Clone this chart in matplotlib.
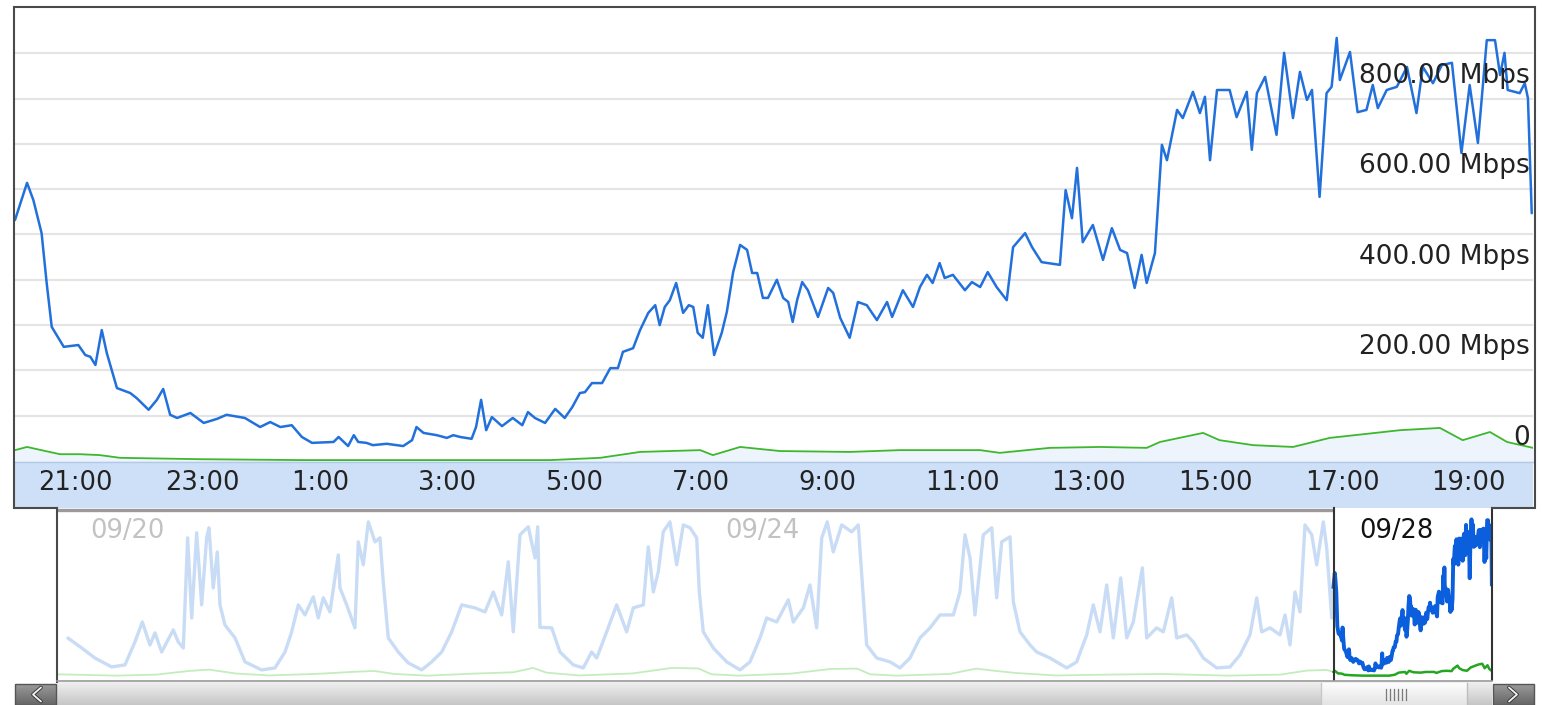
import numpy as np
import matplotlib
matplotlib.use('Agg')
import matplotlib.pyplot as plt
from matplotlib.patches import Rectangle
from matplotlib.colors import LinearSegmentedColormap
import matplotlib.transforms as mtransforms

# ---------------- data ----------------
# main view: hours counted from 09/27 00:00 (24 = 09/28 00:00)
blue_t = [20.05, 20.24, 20.34, 20.47, 20.55, 20.63, 20.82, 21.05, 21.16, 21.24,
          21.32, 21.42, 21.50, 21.66, 21.87, 21.97, 22.16, 22.29, 22.39, 22.50,
          22.61, 22.82, 23.03, 23.24, 23.39, 23.68, 23.92, 24.08, 24.24, 24.42,
          24.58, 24.74, 25.08, 25.16, 25.31, 25.40, 25.47, 25.60, 25.70, 25.92,
          26.18, 26.32, 26.39, 26.50, 26.71, 26.87, 26.97, 27.08, 27.26, 27.33,
          27.41, 27.49, 27.58, 27.74, 27.91, 28.06, 28.15, 28.26, 28.42, 28.58,
          28.73, 28.85, 28.97, 29.05, 29.16, 29.32, 29.45, 29.57, 29.65, 29.81,
          29.92, 30.05, 30.16, 30.23, 30.31, 30.39, 30.49, 30.60, 30.69, 30.76,
          30.83, 30.91, 30.99, 31.09, 31.21, 31.29, 31.39, 31.50, 31.61, 31.69,
          31.77, 31.86, 31.94, 32.08, 32.18, 32.26, 32.33, 32.40, 32.48, 32.57,
          32.73, 32.89, 32.97, 33.08, 33.23, 33.36, 33.50, 33.66, 33.82, 33.90,
          34.07, 34.23, 34.34, 34.45, 34.54, 34.65, 34.73, 34.86, 35.05, 35.16,
          35.29, 35.41, 35.55, 35.71, 35.81, 36.00, 36.11, 36.26, 36.36, 36.55,
          36.64, 36.74, 36.82, 36.86, 36.91, 37.07, 37.23, 37.37, 37.50, 37.61,
          37.73, 37.84, 37.92, 38.05, 38.16, 38.24, 38.40, 38.49, 38.65, 38.76,
          38.84, 38.92, 39.03, 39.23, 39.34, 39.50, 39.58, 39.66, 39.79, 39.97,
          40.09, 40.23, 40.34, 40.45, 40.53, 40.65, 40.76, 40.84, 40.92, 40.97,
          41.13, 41.25, 41.39, 41.49, 41.57, 41.71, 41.87, 42.03, 42.18, 42.28,
          42.44, 42.58, 42.74, 42.89, 43.02, 43.15, 43.29, 43.42, 43.50, 43.57,
          43.62, 43.81, 43.89, 43.94, 44.00]
blue_v = [532, 614, 576, 503, 393, 296, 252, 256, 234, 230,
          212, 289, 238, 161, 150, 139, 113, 135, 159, 102,
          95, 106, 84, 93, 102, 95, 75, 86, 75, 79,
          53, 40, 42, 53, 33, 57, 42, 40, 35, 38,
          33, 46, 75, 62, 57, 51, 57, 53, 49, 75,
          135, 68, 97, 77, 95, 79, 108, 95, 84, 115,
          95, 119, 150, 152, 172, 172, 205, 205, 241, 249,
          289, 327, 344, 300, 340, 355, 393, 327, 344, 340,
          283, 272, 344, 234, 283, 329, 417, 477, 466, 415,
          415, 360, 360, 400, 360, 351, 307, 355, 395, 377,
          318, 382, 371, 316, 272, 351, 344, 311, 351, 318,
          377, 340, 384, 411, 393, 437, 404, 411, 377, 395,
          384, 417, 384, 355, 472, 503, 472, 439, 437, 433,
          598, 536, 647, 576, 483, 521, 444, 514, 466, 459,
          382, 455, 393, 459, 698, 664, 775, 757, 815, 768,
          804, 664, 819, 819, 759, 815, 687, 812, 848, 720,
          901, 757, 859, 797, 819, 583, 812, 826, 934, 841,
          903, 770, 775, 830, 779, 819, 826, 870, 768, 870,
          834, 874, 879, 680, 830, 702, 929, 929, 852, 901,
          819, 812, 834, 801, 547]

green_t = [20.05, 20.24, 20.53, 20.76, 21.08, 21.39, 21.71, 22.97, 24.55, 26.92,
           28.50, 29.29, 29.92, 30.87, 31.07, 31.50, 32.13, 33.23, 34.02, 35.29,
           35.60, 36.39, 37.18, 37.92, 38.13, 38.81, 39.07, 39.60, 40.23, 40.81,
           41.92, 42.55, 42.91, 43.34, 43.61, 44.02]
green_v = [24, 31, 22, 15, 15, 13, 7, 4, 2, 2,
           2, 7, 20, 24, 13, 31, 22, 20, 24, 24,
           18, 29, 31, 29, 42, 62, 46, 35, 31, 51,
           68, 73, 46, 64, 42, 29]

# overview (navigator): hours relative to 09/28 00:00, earlier days
ov_t = [-195.30, -193.27, -191.26, -188.73, -186.72, -185.21, -184.10, -182.94, -182.18, -181.17,
        -179.42, -178.66, -177.90, -177.24, -176.63, -175.88, -175.12, -174.37, -174.02, -173.37,
        -172.76, -172.35, -171.60, -170.08, -168.57, -166.05, -164.04, -162.52, -161.51, -160.51,
        -159.50, -158.24, -157.49, -156.73, -155.72, -154.46, -154.20, -153.19, -151.94, -151.44,
        -150.68, -149.92, -148.91, -148.16, -147.66, -146.90, -145.39, -143.88, -141.85, -140.34,
        -138.82, -137.31, -135.80, -133.79, -132.28, -131.02, -129.75, -128.75, -128.00, -126.98,
        -125.73, -124.71, -124.30, -123.96, -122.19, -120.93, -118.92, -117.41, -116.14, -115.38,
        -113.87, -112.36, -110.85, -109.85, -108.33, -107.58, -106.82, -106.07, -105.31, -104.30,
        -103.28, -102.28, -101.27, -100.26, -99.86, -99.26, -97.75, -95.72, -93.71, -92.20,
        -90.68, -89.67, -88.16, -86.40, -85.65, -84.13, -83.12, -82.11, -81.35, -80.51,
        -79.60, -78.33, -76.82, -75.82, -75.30, -74.55, -73.03, -71.02, -69.51, -68.00,
        -66.49, -64.97, -63.46, -61.45, -60.44, -59.68, -58.92, -58.17, -56.91, -55.64,
        -54.89, -54.13, -52.87, -52.37, -51.36, -49.85, -48.84, -46.82, -44.30, -42.79,
        -41.27, -40.28, -39.26, -38.25, -37.25, -36.13, -35.22, -34.23, -32.86, -32.20,
        -30.69, -29.69, -28.42, -27.66, -26.15, -25.15, -23.64, -21.61, -19.60, -18.09,
        -16.58, -15.56, -14.81, -13.55, -12.04, -11.28, -10.53, -9.77, -9.01, -8.26,
        -7.24, -6.49, -5.49, -4.98, -4.22]
ov_v = [225, 167, 107, 54, 66, 203, 322, 185, 257, 143,
        275, 203, 167, 824, 346, 854, 424, 824, 884, 525,
        740, 424, 304, 227, 84, 36, 48, 143, 263, 424,
        364, 472, 346, 466, 382, 722, 525, 424, 287, 800,
        663, 919, 800, 824, 561, 227, 143, 78, 36, 84,
        143, 263, 424, 406, 382, 501, 364, 681, 263, 842,
        890, 704, 890, 290, 287, 143, 66, 48, 143, 107,
        263, 424, 263, 406, 424, 770, 501, 621, 860, 919,
        663, 901, 884, 824, 501, 263, 167, 84, 36, 84,
        227, 346, 322, 454, 322, 406, 543, 287, 824, 919,
        740, 901, 860, 901, 603, 185, 107, 84, 48, 107,
        227, 287, 364, 364, 501, 842, 704, 364, 842, 884,
        466, 800, 830, 442, 263, 185, 143, 107, 48, 84,
        245, 424, 263, 543, 227, 585, 227, 322, 645, 227,
        287, 263, 466, 227, 245, 203, 107, 48, 54, 125,
        245, 466, 263, 287, 245, 364, 185, 501, 382, 901,
        842, 663, 919, 764, 346]
ovg_t = [-197.0, -188, -182, -177, -174, -170, -165, -158, -152, -149,
         -146, -141, -134, -128, -125, -123, -118, -110, -104, -100,
         -98, -94, -86, -80, -76, -74, -70, -62, -58, -55,
         -52, -46, -38, -30, -24, -20, -12, -8, -5, -3.95]
ovg_v = [10, 2, 8, 30, 38, 15, 3, 12, 25, 30,
         12, 2, 14, 22, 48, 20, 3, 15, 48, 45,
         10, 2, 14, 42, 44, 10, 2, 12, 44, 30,
         18, 3, 8, 12, 6, 2, 8, 32, 36, 24]

tick_hours = [21, 23, 25, 27, 29, 31, 33, 35, 37, 39, 41, 43]
tick_labels = ['21:00', '23:00', '1:00', '3:00', '5:00', '7:00', '9:00',
               '11:00', '13:00', '15:00', '17:00', '19:00']
grid_values = [100, 200, 300, 400, 500, 600, 700, 800, 900]
y_label_values = [0, 200, 400, 600, 800]
y_labels = ['0', '200.00 Mbps', '400.00 Mbps', '600.00 Mbps', '800.00 Mbps']
date_hours = [-192, -96, 0]
date_labels = ['09/20', '09/24', '09/28']

MAIN_T0, MAIN_T1 = 20.05, 44.02
NAV_T0, NAV_T1 = -197.0, 20.02

# ---------------- figure ----------------
W, H = 1542, 705
fig = plt.figure(figsize=(W / 100, H / 100), dpi=100)
fig.patch.set_facecolor('white')


def rect(l, t, r, b):
    return [l / W, 1 - b / H, (r - l) / W, (b - t) / H]


def grad(c0, c1):
    return LinearSegmentedColormap.from_list('g', [c0, c1])


gcol = np.linspace(0, 1, 64).reshape(-1, 1)

# background decorations
bg = fig.add_axes([0, 0, 1, 1], zorder=0)
bg.axis('off')
bg.add_patch(Rectangle((15, 461), 1518, 47, facecolor='#cee0f7', edgecolor='none'))
bg.plot([15, 1533], [461.5, 461.5], color='#b4c9e6', lw=1)
# scrollbar trough
bg.imshow(gcol, cmap=grad('#f0f0f0', '#c6c6c6'), extent=(57, 1492, 705, 682), aspect='auto')
# thumb
bg.imshow(gcol, cmap=grad('#fdfdfd', '#e4e4e4'), extent=(1321, 1467, 705, 683), aspect='auto')
bg.plot([1321, 1321], [683, 705], color='#c8c8c8', lw=1)
bg.plot([1467, 1467], [683, 705], color='#bdbdbd', lw=1)
for gx in [1386, 1390, 1394, 1398, 1402, 1406]:
    bg.plot([gx, gx], [689, 700], color='#7a7a7a', lw=0.9)
# buttons
for x0 in (15, 1493):
    bg.imshow(gcol, cmap=grad('#9a9a9a', '#666666'), extent=(x0, x0 + 41, 705, 684), aspect='auto')
    bg.add_patch(Rectangle((x0, 684), 41, 21, facecolor='none', edgecolor='#555555', lw=1))
bg.plot([41, 33, 41], [687.5, 694.5, 701.5], color='#333333', lw=2.6, solid_capstyle='round')
bg.plot([41, 33, 41], [687.5, 694.5, 701.5], color='#f4f4f4', lw=1.3, solid_capstyle='round')
bg.plot([1509, 1517, 1509], [687.5, 694.5, 701.5], color='#333333', lw=2.6, solid_capstyle='round')
bg.plot([1509, 1517, 1509], [687.5, 694.5, 701.5], color='#f4f4f4', lw=1.3, solid_capstyle='round')
bg.set_xlim(0, W)
bg.set_ylim(H, 0)

# ---------------- main chart ----------------
ax = fig.add_axes(rect(15, 8, 1533, 461), zorder=2)
ax.set_xlim(MAIN_T0, MAIN_T1)
ax.set_ylim(0, 1000)
for s in ax.spines.values():
    s.set_visible(False)
ax.set_yticks(grid_values)
ax.set_xticks([])
ax.yaxis.grid(True, color='#e4e4e4', lw=1.5)
ax.tick_params(left=False, labelleft=False, bottom=False, labelbottom=False)
ax.fill_between(green_t, green_v, 0, color='#eef4fc', lw=0, zorder=1)
ax.plot(green_t, green_v, color='#3db72d', lw=1.3, zorder=3,
        solid_joinstyle='round', solid_capstyle='round')
ax.plot(blue_t, blue_v, color='#2270dc', lw=1.8, zorder=4,
        solid_joinstyle='round', solid_capstyle='round')

for v, lab in zip(y_label_values, y_labels):
    ax.annotate(lab, xy=(1, v), xycoords=('axes fraction', 'data'),
                xytext=(-2.2, 11.5), textcoords='offset points',
                ha='right', va='baseline', fontsize=19, color='#222222', zorder=6)

for h, lab in zip(tick_hours, tick_labels):
    ax.annotate(lab, xy=(h, 0), xycoords=('data', 'axes fraction'),
                xytext=(-26.6, -6.5), textcoords='offset points',
                ha='left', va='top', fontsize=18.5, color='#222222',
                annotation_clip=False)

# ---------------- navigator ----------------
nav = fig.add_axes(rect(57, 512, 1492, 680), zorder=2)
nav.set_xlim(NAV_T0, NAV_T1)
nav.set_ylim(-24, 978)
for s in nav.spines.values():
    s.set_visible(False)
nav.set_xticks([])
nav.set_yticks([])
sel_t = [t - 24 for t in blue_t]
sel_gt = [t - 24 for t in green_t]
nav.plot(ovg_t, ovg_v, color='#c4edbd', lw=1.3, zorder=2)
nav.plot(ov_t + [sel_t[0]], ov_v + [blue_v[0]], color='#c9dcf6', lw=2.4, zorder=2,
         solid_joinstyle='round')
nav.plot(sel_gt, green_v, color='#25a620', lw=1.8, zorder=3)
nav.plot(sel_t, blue_v, color='#0b5fdc', lw=2.8, zorder=4, solid_joinstyle='round')

blend = mtransforms.blended_transform_factory(nav.transData, nav.transAxes)
for h, lab in zip(date_hours, date_labels):
    inside = (MAIN_T0 - 24) <= h <= (MAIN_T1 - 24)
    nav.text(h, 0.885, lab, transform=blend, ha='left', va='center', fontsize=18.5,
             color='#111111' if inside else '#c2c2c2', zorder=5)

nav.plot([NAV_T0, MAIN_T0 - 24], [1.013, 1.013], transform=blend, color='#9a9a9a',
         lw=2.4, clip_on=False, zorder=6, solid_capstyle='butt')
for x in (MAIN_T0 - 24, MAIN_T1 - 24):
    nav.plot([x, x], [0.0, 1.025], transform=blend, color='#333333', lw=1.5,
             clip_on=False, zorder=7)

# ---------------- top frame lines ----------------
top = fig.add_axes([0, 0, 1, 1], zorder=10)
top.patch.set_alpha(0)
top.axis('off')
top.set_xlim(0, W)
top.set_ylim(H, 0)
fc = '#4a4a4a'
top.plot([57, 14, 14, 1535, 1535, 1492], [508, 508, 7, 7, 508, 508], color=fc, lw=1.5,
         solid_joinstyle='miter')
top.plot([57, 57], [508, 682], color=fc, lw=1.5)
top.plot([57, 1492], [680.5, 680.5], color='#9a9a9a', lw=1.2)

fig.savefig('out.png', dpi=100, facecolor='white')
